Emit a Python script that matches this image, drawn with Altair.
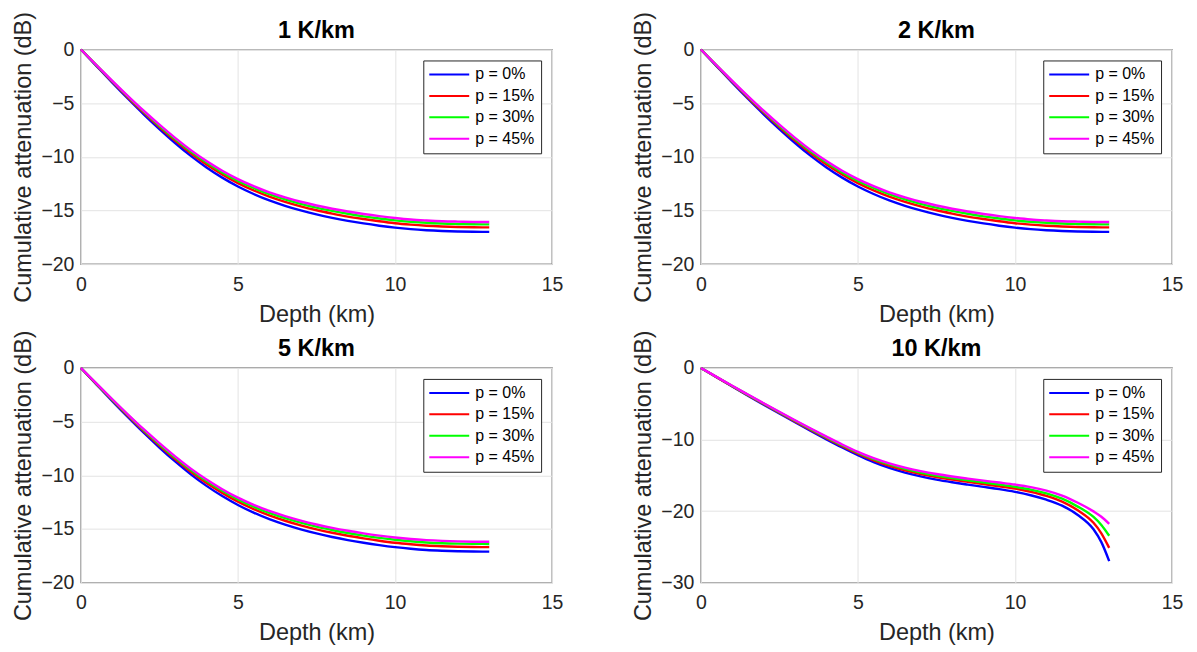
import altair as alt
import pandas as pd

series_names = ["p = 0%", "p = 15%", "p = 30%", "p = 45%"]
series_colors = ["#0000ff", "#ff0000", "#00ff00", "#ff00ff"]
panel_titles = ["1 K/km", "2 K/km", "5 K/km", "10 K/km"]

x_ticks = [0, 5, 10, 15]
y_ticks_small = [0, -5, -10, -15, -20]
y_ticks_large = [0, -10, -20, -30]

depth_a = [0, 0.5, 1, 1.5, 2, 2.5, 3, 3.5, 4, 4.5, 5, 5.5, 6, 6.5, 7, 7.5,
           8, 8.5, 9, 9.5, 10, 10.5, 11, 11.5, 12, 12.5, 13]
depth_b = [0, 0.5, 1, 1.5, 2, 2.5, 3, 3.5, 4, 4.5, 5, 5.5, 6, 6.5, 7, 7.5,
           8, 8.5, 9, 9.5, 10, 10.5, 11, 11.5, 12, 12.5, 12.75, 13]

# 1 K/km and 2 K/km (visually identical)
g1_p0 = [0, -1.55, -3.09, -4.59, -6.04, -7.415, -8.715, -9.915, -10.99, -11.94, -12.765,
         -13.465, -14.065, -14.565, -14.995, -15.365, -15.685, -15.965, -16.21, -16.42,
         -16.60, -16.74, -16.84, -16.91, -16.96, -16.99, -17.0]
g1_p15 = [0, -1.51, -3.01, -4.48, -5.89, -7.23, -8.50, -9.67, -10.72, -11.64, -12.45, -13.13,
          -13.71, -14.20, -14.62, -14.98, -15.29, -15.57, -15.80, -16.01, -16.19, -16.32,
          -16.42, -16.49, -16.54, -16.57, -16.58]
g1_p30 = [0, -1.49, -2.96, -4.40, -5.79, -7.11, -8.36, -9.51, -10.54, -11.45, -12.24, -12.91,
          -13.49, -13.97, -14.38, -14.74, -15.04, -15.31, -15.55, -15.75, -15.92, -16.05,
          -16.15, -16.22, -16.26, -16.29, -16.30]
g1_p45 = [0, -1.47, -2.92, -4.34, -5.71, -7.01, -8.24, -9.38, -10.40, -11.30, -12.08, -12.74,
          -13.31, -13.78, -14.19, -14.54, -14.84, -15.10, -15.33, -15.53, -15.70, -15.84,
          -15.93, -16.00, -16.04, -16.07, -16.08]

# 5 K/km
g5_p0 = [0, -1.55, -3.09, -4.59, -6.04, -7.415, -8.715, -9.915, -10.99, -11.94, -12.77,
         -13.48, -14.09, -14.60, -15.04, -15.42, -15.75, -16.04, -16.29, -16.51, -16.70,
         -16.85, -16.96, -17.03, -17.08, -17.11, -17.12]
g5_p15 = [0, -1.51, -3.01, -4.48, -5.89, -7.23, -8.50, -9.67, -10.72, -11.64, -12.46, -13.15,
          -13.74, -14.24, -14.67, -15.04, -15.36, -15.64, -15.88, -16.10, -16.29, -16.43,
          -16.54, -16.61, -16.66, -16.69, -16.70]
g5_p30 = [0, -1.49, -2.96, -4.40, -5.79, -7.11, -8.36, -9.51, -10.54, -11.45, -12.25, -12.93,
          -13.51, -14.00, -14.42, -14.79, -15.10, -15.38, -15.62, -15.83, -16.01, -16.15,
          -16.26, -16.33, -16.37, -16.39, -16.40]
g5_p45 = [0, -1.47, -2.92, -4.34, -5.71, -7.01, -8.24, -9.38, -10.40, -11.30, -12.09, -12.76,
          -13.33, -13.81, -14.23, -14.59, -14.90, -15.17, -15.41, -15.62, -15.80, -15.94,
          -16.04, -16.11, -16.16, -16.19, -16.20]

# 10 K/km
g10_p0 = [0, -1.3, -2.6, -3.88, -5.14, -6.38, -7.6, -8.8, -9.98, -11.12, -12.2, -13.17,
          -13.98, -14.63, -15.16, -15.61, -15.98, -16.31, -16.62, -16.94, -17.32, -17.8,
          -18.42, -19.25, -20.55, -22.55, -24.35, -27.0]
g10_p15 = [0, -1.28, -2.56, -3.81, -5.05, -6.27, -7.47, -8.65, -9.81, -10.93, -11.98, -12.91,
           -13.69, -14.32, -14.83, -15.26, -15.62, -15.93, -16.23, -16.53, -16.86, -17.31,
           -17.89, -18.69, -19.90, -21.65, -23.11, -25.15]
g10_p30 = [0, -1.26, -2.53, -3.76, -4.98, -6.19, -7.38, -8.55, -9.7, -10.81, -11.84, -12.74,
           -13.49, -14.11, -14.61, -15.03, -15.39, -15.71, -16.0, -16.29, -16.61, -17.0,
           -17.53, -18.28, -19.38, -20.83, -21.94, -23.46]
g10_p45 = [0, -1.25, -2.5, -3.72, -4.93, -6.13, -7.31, -8.47, -9.6, -10.7, -11.72, -12.6,
           -13.33, -13.93, -14.42, -14.83, -15.17, -15.47, -15.75, -16.02, -16.3, -16.65,
           -17.15, -17.85, -18.85, -20.05, -20.8, -21.8]

panels = [
    (panel_titles[0], depth_a, [g1_p0, g1_p15, g1_p30, g1_p45], [-20, 0], y_ticks_small),
    (panel_titles[1], depth_a, [g1_p0, g1_p15, g1_p30, g1_p45], [-20, 0], y_ticks_small),
    (panel_titles[2], depth_a, [g5_p0, g5_p15, g5_p30, g5_p45], [-20, 0], y_ticks_small),
    (panel_titles[3], depth_b, [g10_p0, g10_p15, g10_p30, g10_p45], [-30, 0], y_ticks_large),
]

FONT = "Liberation Sans"
TXT = "#262626"


def make_panel(title, depth, series, ydom, yticks):
    rows = []
    for name, vals in zip(series_names, series):
        for d, v in zip(depth, vals):
            rows.append({"depth": d, "att": v, "series": name})
    df = pd.DataFrame(rows)
    return alt.Chart(df).mark_line(strokeWidth=2.4, interpolate="monotone").encode(
        x=alt.X("depth:Q",
                scale=alt.Scale(domain=[0, 15], nice=False),
                axis=alt.Axis(title="Depth (km)", values=x_ticks, labelFlush=False,
                              labelPadding=11, titlePadding=9)),
        y=alt.Y("att:Q",
                scale=alt.Scale(domain=ydom, nice=False),
                axis=alt.Axis(title="Cumulative attenuation (dB)", values=yticks,
                              labelFlush=False, labelPadding=7, titlePadding=5)),
        color=alt.Color("series:N",
                        scale=alt.Scale(domain=series_names, range=series_colors),
                        legend=alt.Legend(title=None, orient="top-right", offset=11,
                                          padding=6, strokeColor=TXT, fillColor="white",
                                          symbolType="M-4,0H4", symbolSize=100,
                                          symbolStrokeWidth=2, symbolOffset=12,
                                          symbolFillColor="transparent",
                                          labelOffset=18, labelFontSize=16,
                                          labelFont=FONT, labelColor="black",
                                          rowPadding=5.5)),
        order=alt.Order("depth:Q"),
    ).properties(
        width=472, height=215,
        title=alt.TitleParams(text=title, fontSize=23.5, fontWeight="bold", font=FONT,
                              color="black", offset=-31, anchor="middle", frame="group"),
    )


charts = [make_panel(*p) for p in panels]

chart = alt.concat(*charts, columns=2, spacing={"row": 104, "column": 149},
                   bounds="flush").resolve_scale(
    color="independent", x="independent", y="independent"
).resolve_legend(color="independent").properties(
    padding={"left": 3, "top": 2, "right": 5, "bottom": 5},
    background="white",
).configure_view(
    stroke="#8a8a8a", strokeWidth=1.4
).configure_axis(
    grid=True, gridColor="#e3e3e3", gridWidth=1, ticks=False, domain=False,
    labelFont=FONT, labelFontSize=19.5, labelColor=TXT,
    titleFont=FONT, titleFontSize=23.5, titleFontWeight="normal", titleColor=TXT,
)

chart.save("out.html", embed_options={"renderer": "svg", "actions": False})
